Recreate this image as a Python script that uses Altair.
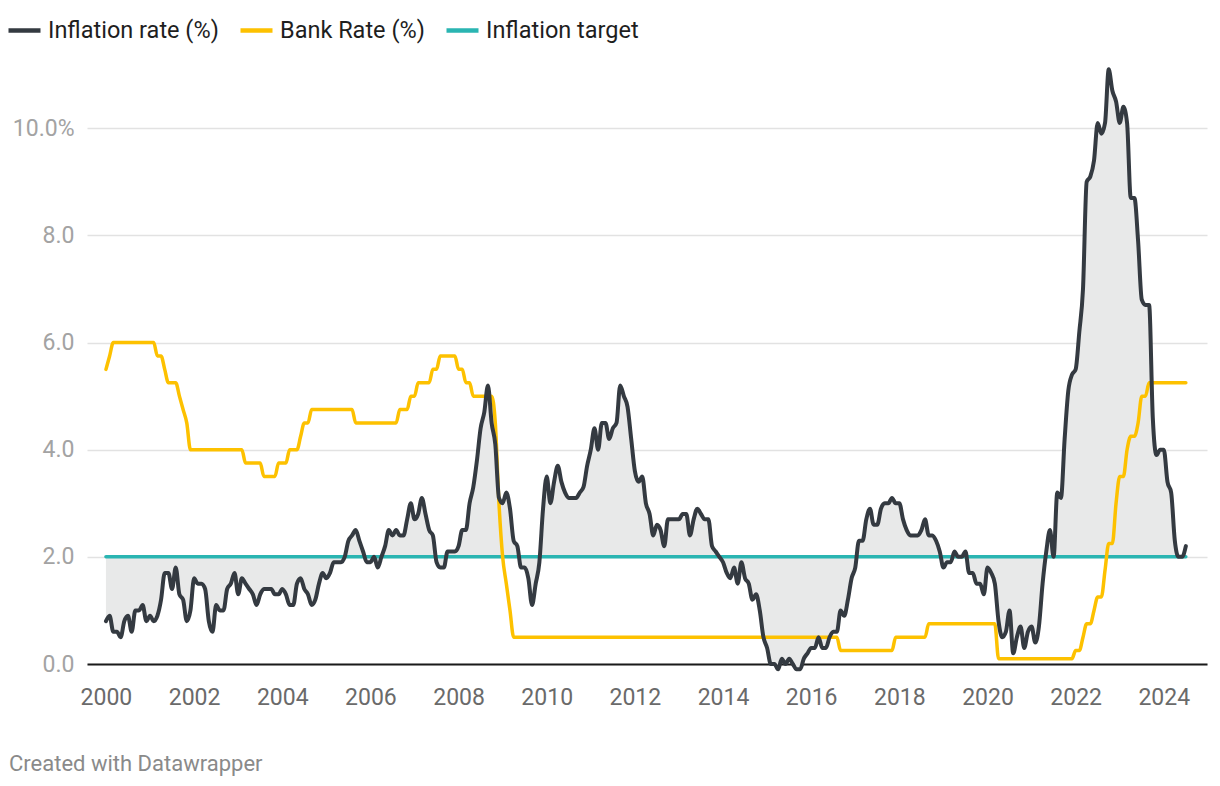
import altair as alt
import pandas as pd

# Monthly UK CPI inflation (%), Jan 2000 - Jul 2024
inflation = [
    0.8, 0.9, 0.6, 0.6, 0.5, 0.8, 0.9, 0.6, 1.0, 1.0, 1.1, 0.8,   # 2000
    0.9, 0.8, 0.9, 1.2, 1.7, 1.7, 1.4, 1.8, 1.3, 1.2, 0.8, 1.0,   # 2001
    1.6, 1.5, 1.5, 1.4, 0.8, 0.6, 1.1, 1.0, 1.0, 1.4, 1.5, 1.7,   # 2002
    1.3, 1.6, 1.5, 1.4, 1.3, 1.1, 1.3, 1.4, 1.4, 1.4, 1.3, 1.3,   # 2003
    1.4, 1.3, 1.1, 1.1, 1.5, 1.6, 1.4, 1.3, 1.1, 1.2, 1.5, 1.7,   # 2004
    1.6, 1.7, 1.9, 1.9, 1.9, 2.0, 2.3, 2.4, 2.5, 2.3, 2.1, 1.9,   # 2005
    1.9, 2.0, 1.8, 2.0, 2.2, 2.5, 2.4, 2.5, 2.4, 2.4, 2.7, 3.0,   # 2006
    2.7, 2.8, 3.1, 2.8, 2.5, 2.4, 1.9, 1.8, 1.8, 2.1, 2.1, 2.1,   # 2007
    2.2, 2.5, 2.5, 3.0, 3.3, 3.8, 4.4, 4.7, 5.2, 4.5, 4.1, 3.1,   # 2008
    3.0, 3.2, 2.9, 2.3, 2.2, 1.8, 1.8, 1.6, 1.1, 1.5, 1.9, 2.9,   # 2009
    3.5, 3.0, 3.4, 3.7, 3.4, 3.2, 3.1, 3.1, 3.1, 3.2, 3.3, 3.7,   # 2010
    4.0, 4.4, 4.0, 4.5, 4.5, 4.2, 4.4, 4.5, 5.2, 5.0, 4.8, 4.2,   # 2011
    3.6, 3.4, 3.5, 3.0, 2.8, 2.4, 2.6, 2.5, 2.2, 2.7, 2.7, 2.7,   # 2012
    2.7, 2.8, 2.8, 2.4, 2.7, 2.9, 2.8, 2.7, 2.7, 2.2, 2.1, 2.0,   # 2013
    1.9, 1.7, 1.6, 1.8, 1.5, 1.9, 1.6, 1.5, 1.2, 1.3, 1.0, 0.5,   # 2014
    0.3, 0.0, 0.0, -0.1, 0.1, 0.0, 0.1, 0.0, -0.1, -0.1, 0.1, 0.2, # 2015
    0.3, 0.3, 0.5, 0.3, 0.3, 0.5, 0.6, 0.6, 1.0, 0.9, 1.2, 1.6,   # 2016
    1.8, 2.3, 2.3, 2.7, 2.9, 2.6, 2.6, 2.9, 3.0, 3.0, 3.1, 3.0,   # 2017
    3.0, 2.7, 2.5, 2.4, 2.4, 2.4, 2.5, 2.7, 2.4, 2.4, 2.3, 2.1,   # 2018
    1.8, 1.9, 1.9, 2.1, 2.0, 2.0, 2.1, 1.7, 1.7, 1.5, 1.5, 1.3,   # 2019
    1.8, 1.7, 1.5, 0.8, 0.5, 0.6, 1.0, 0.2, 0.5, 0.7, 0.3, 0.6,   # 2020
    0.7, 0.4, 0.7, 1.5, 2.1, 2.5, 2.0, 3.2, 3.1, 4.2, 5.1, 5.4,   # 2021
    5.5, 6.2, 7.0, 9.0, 9.1, 9.4, 10.1, 9.9, 10.1, 11.1, 10.7, 10.5,  # 2022
    10.1, 10.4, 10.1, 8.7, 8.7, 7.9, 6.8, 6.7, 6.7, 4.6, 3.9, 4.0,    # 2023
    4.0, 3.4, 3.2, 2.3, 2.0, 2.0, 2.2,                              # 2024
]

# Bank Rate (%), first of each month, Jan 2000 - Jul 2024
bank_rate = [
    5.5, 5.75, 6.0, 6.0, 6.0, 6.0, 6.0, 6.0, 6.0, 6.0, 6.0, 6.0,      # 2000
    6.0, 6.0, 5.75, 5.75, 5.5, 5.25, 5.25, 5.25, 5.0, 4.75, 4.5, 4.0, # 2001
    4.0, 4.0, 4.0, 4.0, 4.0, 4.0, 4.0, 4.0, 4.0, 4.0, 4.0, 4.0,       # 2002
    4.0, 4.0, 3.75, 3.75, 3.75, 3.75, 3.75, 3.5, 3.5, 3.5, 3.5, 3.75, # 2003
    3.75, 3.75, 4.0, 4.0, 4.0, 4.25, 4.5, 4.5, 4.75, 4.75, 4.75, 4.75,  # 2004
    4.75, 4.75, 4.75, 4.75, 4.75, 4.75, 4.75, 4.75, 4.5, 4.5, 4.5, 4.5, # 2005
    4.5, 4.5, 4.5, 4.5, 4.5, 4.5, 4.5, 4.5, 4.75, 4.75, 4.75, 5.0,      # 2006
    5.0, 5.25, 5.25, 5.25, 5.25, 5.5, 5.5, 5.75, 5.75, 5.75, 5.75, 5.75, # 2007
    5.5, 5.5, 5.25, 5.25, 5.0, 5.0, 5.0, 5.0, 5.0, 5.0, 4.5, 3.0,       # 2008
    2.0, 1.5, 1.0, 0.5, 0.5, 0.5, 0.5, 0.5, 0.5, 0.5, 0.5, 0.5,         # 2009
    0.5, 0.5, 0.5, 0.5, 0.5, 0.5, 0.5, 0.5, 0.5, 0.5, 0.5, 0.5,         # 2010
    0.5, 0.5, 0.5, 0.5, 0.5, 0.5, 0.5, 0.5, 0.5, 0.5, 0.5, 0.5,         # 2011
    0.5, 0.5, 0.5, 0.5, 0.5, 0.5, 0.5, 0.5, 0.5, 0.5, 0.5, 0.5,         # 2012
    0.5, 0.5, 0.5, 0.5, 0.5, 0.5, 0.5, 0.5, 0.5, 0.5, 0.5, 0.5,         # 2013
    0.5, 0.5, 0.5, 0.5, 0.5, 0.5, 0.5, 0.5, 0.5, 0.5, 0.5, 0.5,         # 2014
    0.5, 0.5, 0.5, 0.5, 0.5, 0.5, 0.5, 0.5, 0.5, 0.5, 0.5, 0.5,         # 2015
    0.5, 0.5, 0.5, 0.5, 0.5, 0.5, 0.5, 0.5, 0.25, 0.25, 0.25, 0.25,     # 2016
    0.25, 0.25, 0.25, 0.25, 0.25, 0.25, 0.25, 0.25, 0.25, 0.25, 0.25, 0.5,  # 2017
    0.5, 0.5, 0.5, 0.5, 0.5, 0.5, 0.5, 0.5, 0.75, 0.75, 0.75, 0.75,     # 2018
    0.75, 0.75, 0.75, 0.75, 0.75, 0.75, 0.75, 0.75, 0.75, 0.75, 0.75, 0.75,  # 2019
    0.75, 0.75, 0.75, 0.1, 0.1, 0.1, 0.1, 0.1, 0.1, 0.1, 0.1, 0.1,      # 2020
    0.1, 0.1, 0.1, 0.1, 0.1, 0.1, 0.1, 0.1, 0.1, 0.1, 0.1, 0.1,         # 2021
    0.25, 0.25, 0.5, 0.75, 0.75, 1.0, 1.25, 1.25, 1.75, 2.25, 2.25, 3.0,  # 2022
    3.5, 3.5, 4.0, 4.25, 4.25, 4.5, 5.0, 5.0, 5.25, 5.25, 5.25, 5.25,   # 2023
    5.25, 5.25, 5.25, 5.25, 5.25, 5.25, 5.25,                            # 2024
]

target_value = 2.0
series_names = ["Inflation rate (%)", "Bank Rate (%)", "Inflation target"]
series_colors = ["#343a41", "#fdc100", "#2ab5b2"]
x_ticks = list(range(2000, 2025, 2))
y_ticks = [0, 2, 4, 6, 8, 10]

dates = [2000 + i / 12 for i in range(len(inflation))]

df_inf = pd.DataFrame({"date": dates, "value": inflation, "series": series_names[0]})
df_bank = pd.DataFrame({"date": dates, "value": bank_rate, "series": series_names[1]})
df_tgt = pd.DataFrame({"date": dates, "value": [target_value] * len(dates), "series": series_names[2]})
df_area = pd.DataFrame({"date": dates, "inflation": inflation, "target": [target_value] * len(dates)})

FONT = "Roboto"

x_enc = alt.X(
    "date:Q",
    scale=alt.Scale(domain=[1999.57, 2024.98], nice=False, zero=False),
    axis=alt.Axis(
        values=x_ticks, format="d", title=None, grid=False, ticks=False,
        domain=True, domainColor="#1a1a1a", domainWidth=2,
        labelFont=FONT, labelFontSize=23, labelColor="#6a6a6a", labelPadding=22,
        labelFlush=False,
    ),
)
y_scale = alt.Scale(domain=[0, 11.2], nice=False)
y_axis = alt.Axis(
    values=y_ticks, title=None, grid=True, gridColor="#e2e2e2", gridWidth=1.3,
    ticks=False, domain=False, labelFont=FONT, labelFontSize=23,
    labelColor="#a3a3a3", labelPadding=13,
    labelExpr="datum.value == 10 ? '10.0%' : format(datum.value, '.1f')",
)

color_scale = alt.Scale(domain=series_names, range=series_colors)
color_legend = alt.Legend(
    title=None, orient="none", direction="horizontal",
    legendX=-81, legendY=-52,
    symbolType="stroke", symbolStrokeWidth=4.5, symbolSize=1024,
    labelFont=FONT, labelFontSize=23.5, labelColor="#1e1e1e", labelLimit=400,
    labelOffset=5, columnPadding=12, symbolOffset=0,
)

area = alt.Chart(df_area).mark_area(interpolate="monotone", color="#e8e9e9").encode(
    x=x_enc,
    y=alt.Y("inflation:Q", scale=y_scale, axis=y_axis),
    y2="target:Q",
)

def line_layer(df, width):
    return alt.Chart(df).mark_line(interpolate="monotone", strokeWidth=width, strokeCap="round").encode(
        x=x_enc,
        y=alt.Y("value:Q", scale=y_scale, axis=y_axis),
        color=alt.Color("series:N", scale=color_scale, legend=color_legend),
    )

target_line = line_layer(df_tgt, 3.5)
bank_line = line_layer(df_bank, 3.5)
inf_line = line_layer(df_inf, 4)

chart = alt.layer(area, target_line, bank_line, inf_line).properties(
    width=1120,
    height=600,
    padding={"left": 79, "top": 56, "right": 5, "bottom": 120},
    autosize=alt.AutoSizeParams(type="none"),
    background="white",
    title=alt.TitleParams(
        text="Created with Datawrapper", orient="bottom", anchor="start",
        dx=3, offset=45, font=FONT, fontSize=22, fontWeight="normal",
        color="#8a8a8a",
    ),
).configure_view(stroke=None, strokeWidth=0)

chart.save("out.html", embed_options={"renderer": "svg", "actions": False})
